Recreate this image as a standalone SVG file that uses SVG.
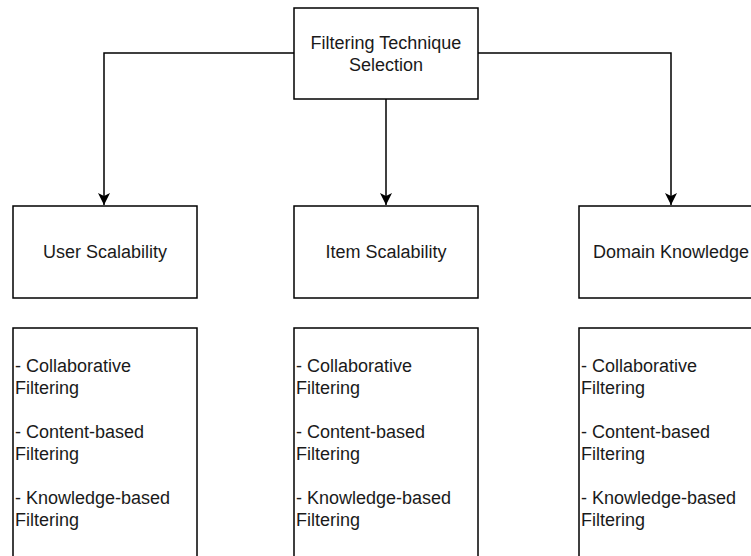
<svg xmlns="http://www.w3.org/2000/svg" width="751" height="556" viewBox="0 0 751 556">
  <style>
    .box { fill: #ffffff; stroke: #000000; stroke-width: 1.5; }
    .edge { fill: none; stroke: #000000; stroke-width: 1.5; }
    .label { font-family: "Liberation Sans", Arial, Helvetica, sans-serif; font-size: 18px; fill: #1a1a1a; }
    .mid { text-anchor: middle; }
  </style>
  <defs>
    <marker id="arrow" markerUnits="userSpaceOnUse" markerWidth="14" markerHeight="14" refX="12" refY="6" orient="auto">
      <path d="M0,0 L12,6 L0,12 L3,6 Z" fill="#000000"/>
    </marker>
  </defs>
  <rect width="751" height="556" fill="#ffffff"/>

  <g id="connectors">
    <path class="edge" d="M294,53 H104 V205" marker-end="url(#arrow)"/>
    <path class="edge" d="M386,99 V205" marker-end="url(#arrow)"/>
    <path class="edge" d="M478,53 H671 V205" marker-end="url(#arrow)"/>
  </g>

  <g id="selection">
    <rect class="box" x="294" y="8" width="184" height="91"/>
    <text class="label mid" x="386" y="49">Filtering Technique</text>
    <text class="label mid" x="386" y="71">Selection</text>
  </g>

  <g id="user-scalability">
    <rect class="box" x="13" y="206" width="184" height="92"/>
    <text class="label mid" x="105" y="258">User Scalability</text>
  </g>

  <g id="item-scalability">
    <rect class="box" x="294" y="206" width="184" height="92"/>
    <text class="label mid" x="386" y="258">Item Scalability</text>
  </g>

  <g id="domain-knowledge">
    <rect class="box" x="579" y="206" width="184" height="92"/>
    <text class="label mid" x="671" y="258">Domain Knowledge</text>
  </g>

  <g id="user-techniques">
    <rect class="box" x="13" y="328" width="184" height="240"/>
    <text class="label" x="15" y="372">- Collaborative</text>
    <text class="label" x="15" y="394">Filtering</text>
    <text class="label" x="15" y="438">- Content-based</text>
    <text class="label" x="15" y="460">Filtering</text>
    <text class="label" x="15" y="504">- Knowledge-based</text>
    <text class="label" x="15" y="526">Filtering</text>
  </g>

  <g id="item-techniques">
    <rect class="box" x="294" y="328" width="184" height="240"/>
    <text class="label" x="296" y="372">- Collaborative</text>
    <text class="label" x="296" y="394">Filtering</text>
    <text class="label" x="296" y="438">- Content-based</text>
    <text class="label" x="296" y="460">Filtering</text>
    <text class="label" x="296" y="504">- Knowledge-based</text>
    <text class="label" x="296" y="526">Filtering</text>
  </g>

  <g id="domain-techniques">
    <rect class="box" x="579" y="328" width="184" height="240"/>
    <text class="label" x="581" y="372">- Collaborative</text>
    <text class="label" x="581" y="394">Filtering</text>
    <text class="label" x="581" y="438">- Content-based</text>
    <text class="label" x="581" y="460">Filtering</text>
    <text class="label" x="581" y="504">- Knowledge-based</text>
    <text class="label" x="581" y="526">Filtering</text>
  </g>
</svg>
